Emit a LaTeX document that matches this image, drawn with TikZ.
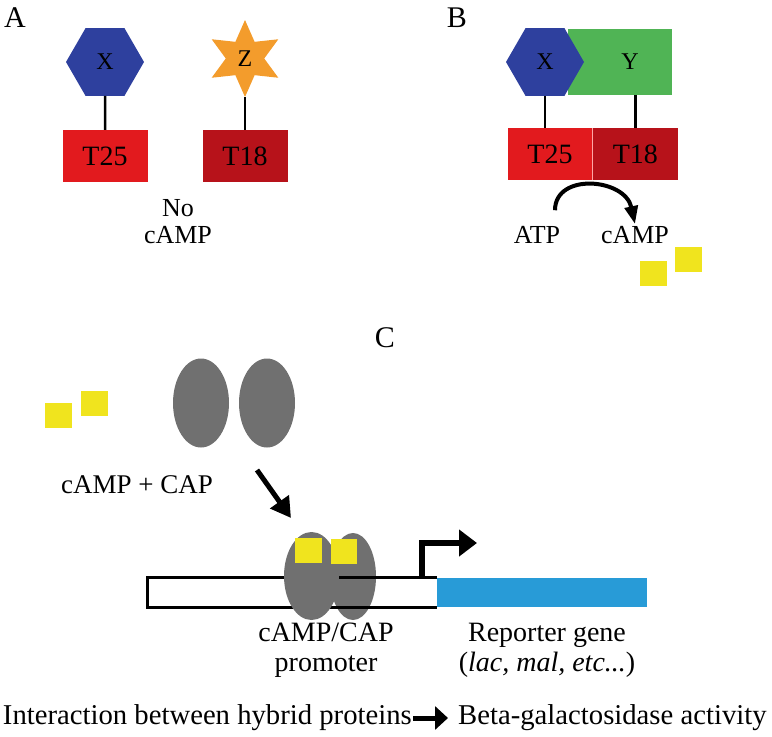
\documentclass[tikz,border=0pt]{standalone}
\usepackage{fontspec}
\setmainfont{Liberation Serif}
\newfontfamily\tms{Liberation Serif}
\usetikzlibrary{shapes.geometric,arrows.meta,positioning}
\definecolor{hexblue}{RGB}{46,64,158}
\definecolor{starorange}{RGB}{243,156,44}
\definecolor{tredlight}{RGB}{226,26,30}
\definecolor{treddark}{RGB}{183,18,26}
\definecolor{ygreen}{RGB}{80,180,85}
\definecolor{campyellow}{RGB}{240,228,30}
\definecolor{capgray}{RGB}{112,112,112}
\definecolor{geneblue}{RGB}{40,155,215}
\tikzset{
  lbl/.style={font=\tms\fontsize{26}{30}\selectfont,align=center,inner sep=2pt},
  biglbl/.style={font=\tms\fontsize{28}{30}\selectfont,align=center,inner sep=2pt},
  panel/.style={font=\tms\fontsize{30}{32}\selectfont,inner sep=0pt},
  hexa/.style={regular polygon,regular polygon sides=6,minimum size=78pt,inner sep=0pt,fill=hexblue,font=\tms\fontsize{24}{28}\selectfont},
  tbox/.style={minimum width=85pt,minimum height=52pt,inner sep=0pt,font=\tms\fontsize{28}{32}\selectfont},
  link/.style={line width=2.5pt},
  campsq/.style={fill=campyellow,minimum width=27pt,minimum height=25pt,inner sep=0pt},
  capblob/.style={ellipse,fill=capgray,minimum width=56pt,minimum height=89pt,inner sep=0pt},
  fatarrow/.style={line width=5pt,-{Triangle[length=20pt,width=22pt]}},
}
\begin{document}
\begin{tikzpicture}[x=1pt,y=-1pt]
\useasboundingbox (0,0) rectangle (772,737);
\node[panel] (A) at (15,18) {A};
\node[hexa] (xa) at (105,62) {X};
\node[star,star points=6,star point ratio=2,minimum size=77pt,inner sep=0pt,fill=starorange,font=\tms\fontsize{24}{28}\selectfont] (za) at (245,58.5) {Z};
\node[tbox,fill=tredlight] (t25a) at (105,156) {T25};
\node[tbox,fill=treddark] (t18a) at (245,156) {T18};
\draw[link] (xa.south) -- (t25a.north);
\draw[link] (za.south) -- (t18a.north);
\node[font=\tms\fontsize{26}{27}\selectfont,align=center,inner sep=0pt] (nocamp) at (178,222) {No\\cAMP};
\node[panel] (B) at (457,18) {B};
\node[fill=ygreen,minimum width=104pt,minimum height=66pt,inner sep=0pt] (yb) at (620,62) {};
\node[hexa] (xb) at (545,62) {X};
\node[font=\tms\fontsize{24}{28}\selectfont] (ylbl) at (630,62) {Y};
\node[tbox,fill=tredlight] (t25b) at (550,154) {T25};
\node[tbox,fill=treddark,right=0pt of t25b] (t18b) {T18};
\draw[red!35!white,line width=0.6pt] (t25b.north east) -- (t25b.south east);
\draw[link] (xb.south) -- (xb.south |- t25b.north);
\draw[link] (t18b.north |- yb.south) -- (t18b.north);
\node[lbl] (atp) at (537,235) {ATP};
\node[lbl] (campb) at (635,235) {cAMP};
\draw[line width=4pt,-{Triangle[length=18pt,width=13pt]}] ([xshift=18pt,yshift=14pt]atp.north) .. controls +(0,-38) and +(-10,-46) .. (campb.north);
\node[campsq] (sqb1) at (653,273) {};
\node[campsq] (sqb2) at (688,259) {};
\node[panel] (C) at (385,338) {C};
\node[campsq] (sqc1) at (58,415) {};
\node[campsq] (sqc2) at (94,403) {};
\node[capblob] (capfl) at (201,403) {};
\node[capblob] (capfr) at (267,403) {};
\node[font=\tms\fontsize{27}{30}\selectfont,inner sep=2pt] (campcap) at (137,485) {cAMP + CAP};
\coordinate (arrc) at (257,470);
\coordinate (arrd) at (291,518);
\draw[fatarrow] (arrc) -- (arrd);
\node[fill=white,minimum width=289pt,minimum height=29pt,inner sep=0pt] (bar) at (292.5,592.5) {};
\node[capblob,minimum width=46pt,minimum height=87pt] (capbr) at (353,576.5) {};
\draw[line width=3pt] (bar.north east) -- (bar.north west) -- (bar.south west) -- (bar.south east);
\node[capblob,minimum width=55pt,minimum height=88pt] (capbl) at (311.5,576) {};
\node[campsq] (sqd1) at (308.5,550.5) {};
\node[campsq,minimum width=26pt] (sqd2) at (344,551) {};
\node[fill=geneblue,minimum width=210pt,minimum height=29pt,inner sep=0pt] (gene) at (542,592.5) {};
\coordinate (tss) at (422,579);
\coordinate (tsstip) at (477,543);
\draw[line width=6pt,-{Triangle[length=18pt,width=26pt]}] (tss) |- (tsstip);
\node[biglbl] (prom) at (326,650) {cAMP/CAP\\promoter};
\node[biglbl] (rep) at (547,650) {Reporter gene\\(\textit{lac, mal, etc...})};
\node[font=\tms\fontsize{28.7}{30}\selectfont,anchor=east,inner sep=0pt] (inter) at (412,718) {Interaction between hybrid proteins};
\node[font=\tms\fontsize{28.7}{30}\selectfont,anchor=west,inner sep=0pt] (beta) at (458,718) {Beta-galactosidase activity};
\draw[line width=5pt,-{Triangle[length=13pt,width=23pt]},shorten >=10pt] ([xshift=1pt]inter.east) -- (beta.west);
\end{tikzpicture}
\end{document}
